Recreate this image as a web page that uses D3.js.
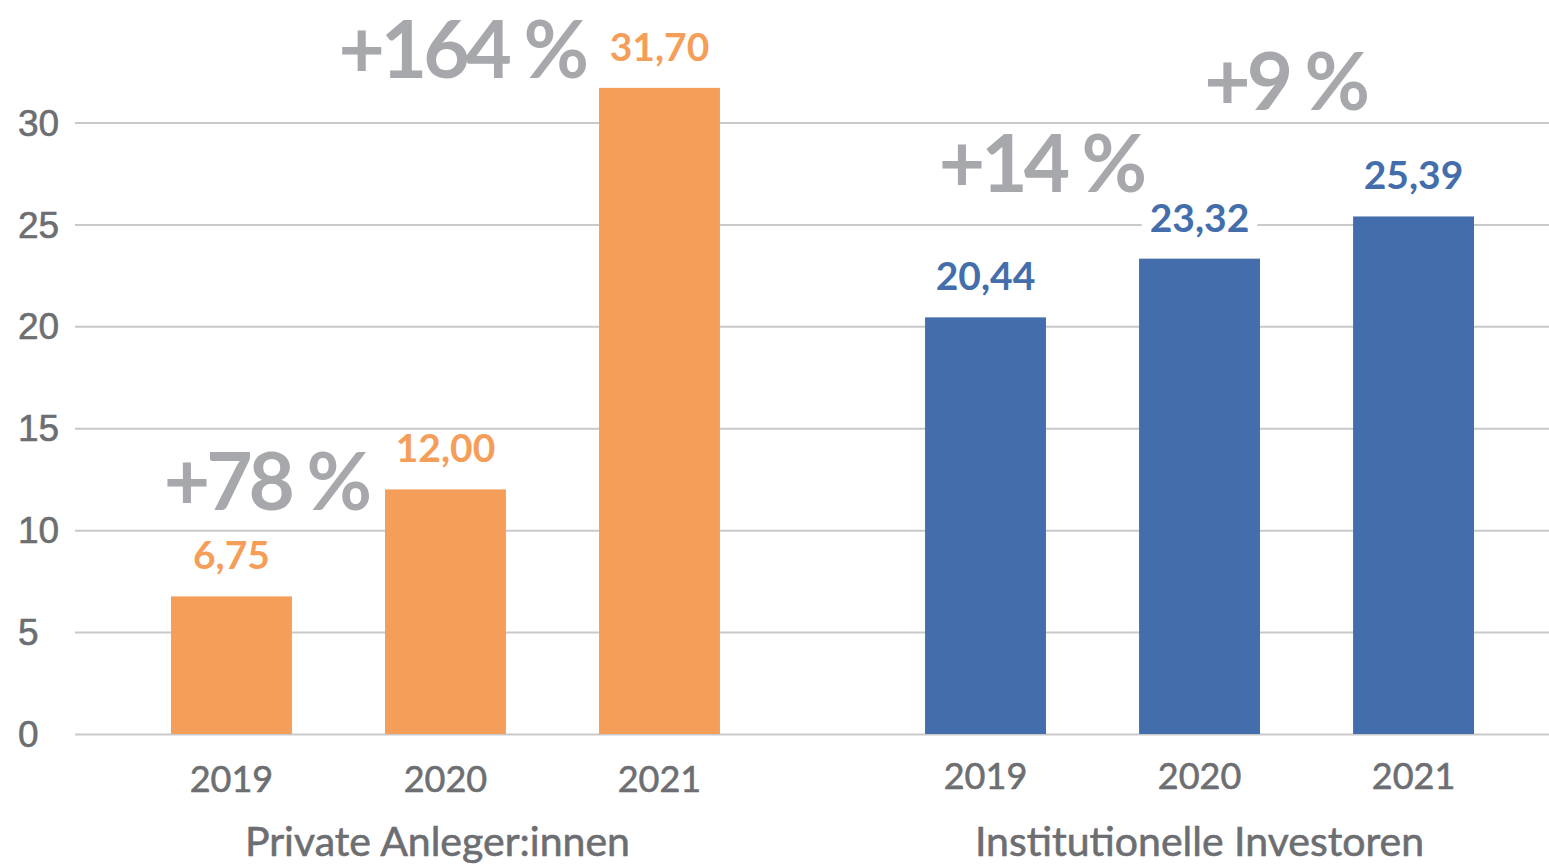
<!DOCTYPE html>
<html>
<head>
<meta charset="utf-8">
<script src="https://cdn.jsdelivr.net/npm/d3@7"></script>
<style>
  html, body { margin: 0; padding: 0; background: #fff; }
  svg { display: block; font-family: Lato, "Open Sans", sans-serif; }
</style>
</head>
<body>
<svg id="chart" width="1549" height="864"></svg>
<script>
// data
const groups = ['Private Anleger:innen', 'Institutionelle Investoren'];
const years = ['2019', '2020', '2021'];
const privateValues = [6.75, 12.00, 31.70];
const institutionalValues = [20.44, 23.32, 25.39];
const yTicks = [0, 5, 10, 15, 20, 25, 30];
// growth labels: text, group, the year bar they sit next to, and height on the value scale
const growthLabels = ['+78 %', '+164 %', '+14 %', '+9 %'];
const growthGroup = [0, 0, 1, 1];
const growthYear = ['2020', '2021', '2020', '2021'];
const growthLevel = [11.0, 32.2, 26.6, 30.6];

const colors = ['#F59E5A', '#436EAB'];
const seriesValues = [privateValues, institutionalValues];
// right edge of each growth label relative to the left edge of its bar
const growthDx = [-17, -14, 4, 13];

const svg = d3.select('#chart');

const y = d3.scaleLinear().domain([0, 30]).range([734, 122.5]);

const xGroup = d3.scaleBand()
    .domain(groups)
    .range([171, 1474])
    .paddingInner(0.272);

const xYear = d3.scaleBand()
    .domain(years)
    .range([0, xGroup.bandwidth()])
    .paddingInner(0.435)
    .paddingOuter(0);

const axisGray = '#6d6e71';

// gridlines + y labels
const yAxis = d3.axisLeft(y)
    .tickValues(yTicks)
    .tickSize(-(1549 - 75))
    .tickFormat(d3.format('d'));

const gAxis = svg.append('g')
    .attr('transform', 'translate(75,0)')
    .call(yAxis);
gAxis.select('.domain').remove();
gAxis.selectAll('.tick line')
    .attr('stroke', '#c9c9cb')
    .attr('stroke-width', 2);
gAxis.selectAll('.tick text')
    .attr('x', -57)
    .attr('dy', '0.34em')
    .attr('text-anchor', 'start')
    .attr('fill', axisGray)
    .attr('stroke', axisGray)
    .attr('stroke-width', 0.6)
    .style('font-size', '37px');

// bars
const group = svg.selectAll('g.group')
    .data(groups)
    .enter().append('g')
    .attr('class', 'group')
    .attr('transform', d => `translate(${xGroup(d)},0)`);

group.each(function(g, gi) {
    const sel = d3.select(this);
    const rows = years.map((yr, i) => ({ year: yr, value: seriesValues[gi][i] }));

    sel.selectAll('rect.bar')
        .data(rows)
        .enter().append('rect')
        .attr('class', 'bar')
        .attr('x', d => xYear(d.year))
        .attr('y', d => y(d.value))
        .attr('width', xYear.bandwidth())
        .attr('height', d => y(0) - y(d.value))
        .attr('fill', colors[gi]);

    // value labels with a white backing so gridlines break behind them
    const lbl = sel.selectAll('g.value')
        .data(rows)
        .enter().append('g')
        .attr('class', 'value');
    lbl.append('rect').attr('fill', '#fff');
    lbl.append('text')
        .attr('x', d => xYear(d.year) + xYear.bandwidth() / 2)
        .attr('y', d => y(d.value) - 27)
        .attr('text-anchor', 'middle')
        .attr('fill', colors[gi])
        .style('font-size', '39px')
        .style('font-weight', 700)
        .text(d => d3.format('.2f')(d.value).replace('.', ','));
    lbl.each(function(d) {
        const t = d3.select(this).select('text');
        const b = t.node().getBBox();
        const base = y(d.value) - 27;
        // only as tall as the digits, not the full line box
        d3.select(this).select('rect')
            .attr('x', b.x - 8).attr('y', base - 30)
            .attr('width', b.width + 16).attr('height', 38);
    });

    // year labels
    sel.selectAll('text.year')
        .data(years)
        .enter().append('text')
        .attr('class', 'year')
        .attr('x', d => xYear(d) + xYear.bandwidth() / 2)
        .attr('y', gi === 0 ? 792 : 789)
        .attr('text-anchor', 'middle')
        .attr('fill', axisGray)
        .attr('stroke', axisGray)
        .attr('stroke-width', 0.6)
        .style('font-size', '36px')
        .text(d => d);

    // group label
    sel.append('text')
        .attr('x', xGroup.bandwidth() / 2 + (gi === 0 ? -8 : 0))
        .attr('y', 856)
        .attr('text-anchor', 'middle')
        .attr('fill', axisGray)
        .attr('stroke', axisGray)
        .attr('stroke-width', 0.6)
        .style('font-size', '41px')
        .text(g);
});

// growth annotations
svg.selectAll('text.growth')
    .data(growthLabels)
    .enter().append('text')
    .attr('class', 'growth')
    .attr('x', (d, i) => xGroup(groups[growthGroup[i]]) + xYear(growthYear[i]) + growthDx[i])
    .attr('y', (d, i) => y(growthLevel[i]))
    .attr('text-anchor', 'end')
    .attr('fill', '#a7a8ab')
    .style('font-size', '80px')
    .style('font-weight', 700)
    .style('letter-spacing', '-4px')
    .text(d => d);
</script>
</body>
</html>
